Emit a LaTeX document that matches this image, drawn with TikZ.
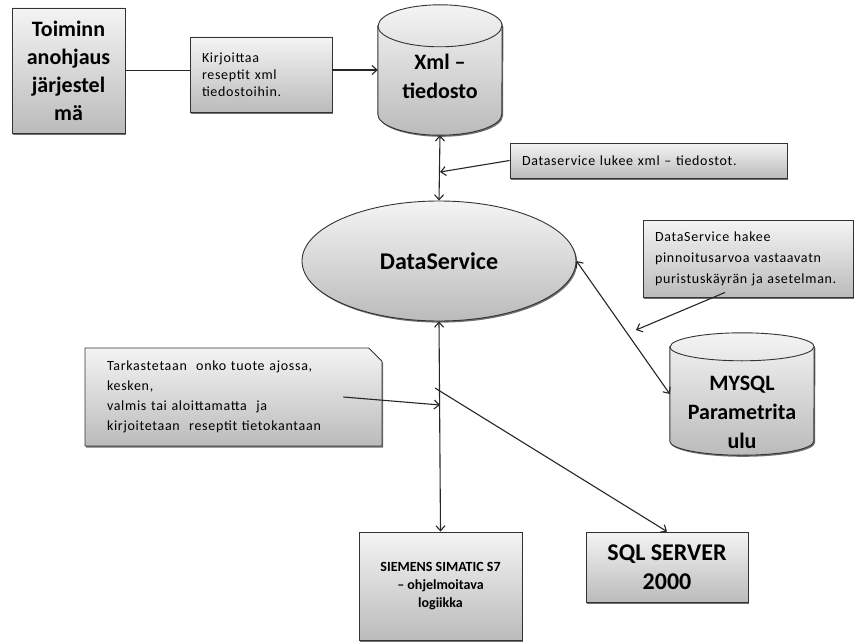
\documentclass[tikz,border=0pt]{standalone}
\usepackage{fontspec}
\setmainfont{Carlito}
\newfontfamily\notefont[LetterSpace=5,Ligatures=TeX]{Carlito}
\usepackage{tikz}
\usetikzlibrary{shapes.geometric,shapes.misc,shadows,arrows.meta,backgrounds}

\definecolor{boxtop}{HTML}{F4F4F4}
\definecolor{boxbot}{HTML}{BBBBBB}

% drum outline round a store node: name, x radius, y radius
\newcommand{\drum}[3]{%
  \draw[shaded, shadowed] ([yshift=-#3]#1.north west) -- ([yshift=#3]#1.south west)
      arc[start angle=180, end angle=360, x radius=#2, y radius=#3]
      -- ([yshift=-#3]#1.north east)
      arc[start angle=0, end angle=180, x radius=#2, y radius=#3] -- cycle;
  \draw[black!80, line width=0.9pt] ([yshift=-#3]#1.north west)
      arc[start angle=180, end angle=360, x radius=#2, y radius=#3];}

\begin{document}
\begin{tikzpicture}[x=1pt,y=-1pt,
                    >={Straight Barb[length=5pt,width=9pt]},
                    shaded/.style={draw=black!80, line width=0.9pt, top color=boxtop, bottom color=boxbot},
                    shadowed/.style={drop shadow={shadow xshift=1.2pt, shadow yshift=-1.6pt, fill=black!70, opacity=0.8}},
                    bigbox/.style={rectangle, shaded, shadowed, align=center, inner sep=0pt,
                                   font=\bfseries\fontsize{22}{28}\selectfont},
                    note/.style={rectangle, shaded, shadowed, align=left, inner xsep=12pt, inner ysep=0pt,
                                 font=\notefont\fontsize{14}{17}\selectfont},
                    store/.style={rectangle, inner sep=0pt, font=\bfseries\fontsize{22}{29}\selectfont},
                    conn/.style={line width=1.1pt, black!85}]

        \useasboundingbox (0,0) rectangle (862,642);

        % sources
        \node[bigbox, minimum width=113pt, minimum height=125pt] (ohj) at (68.5,70.5)
            {Toiminn\\anohjaus\\järjestel\\mä};
        \node[note, text width=118pt, minimum height=75pt] (kirj) at (261,74.5)
            {Kirjoittaa\\reseptit xml\\tiedostoihin.};
        \node[store, minimum width=124pt, minimum height=130pt] (xml) at (440,70)
            {\raisebox{-13.5pt}[0pt][0pt]{\begin{tabular}{@{}c@{}}Xml --\\tiedosto\end{tabular}}};
        \node[note, text width=253pt, minimum height=35pt] (dsl) at (648.5,160.5)
            {Dataservice lukee xml -- tiedostot.};

        % service
        \node[ellipse, shaded, shadowed, minimum width=274pt, minimum height=120pt,
              font=\bfseries\fontsize{24}{28}\selectfont] (ds) at (439,261) {DataService};
        \node[note, text width=186pt, minimum height=77pt, font=\notefont\fontsize{14}{21}\selectfont] (dsh) at (748,258.5)
            {DataService hakee\\pinnoitusarvoa vastaavatn\\puristuskäyrän ja asetelman.};
        \node[store, minimum width=144pt, minimum height=122pt] (mysql) at (742,394)
            {\raisebox{-24.5pt}[0pt][0pt]{\begin{tabular}{@{}c@{}}MYSQL\\Parametrita\\ulu\end{tabular}}};
        \node[chamfered rectangle, chamfered rectangle corners=north east, chamfered rectangle xsep=10pt,
              shaded, shadowed, align=left, inner xsep=12pt, inner ysep=0pt, text width=253pt,
              minimum height=98pt, font=\notefont\fontsize{14}{20}\selectfont] (tark) at (233.5,397)
            {Tarkastetaan~ onko tuote ajossa,\\kesken,\\valmis tai aloittamatta~ ja\\kirjoitetaan~ reseptit tietokantaan};

        % targets
        \node[bigbox, minimum width=163pt, minimum height=108pt, font=\bfseries\fontsize{14}{18}\selectfont] (sim) at (440.5,586)
            {SIEMENS SIMATIC S7\\-- ohjelmoitava\\logiikka};
        \node[bigbox, minimum width=162pt, minimum height=70pt, font=\bfseries\fontsize{24}{29}\selectfont] (sql) at (667,567)
            {SQL SERVER\\2000};

        \begin{scope}[on background layer]
            \drum{xml}{62pt}{21pt}
            \drum{mysql}{72pt}{14pt}
        \end{scope}

        \coordinate (p1) at (440,172);
        \coordinate (p2) at (636,330);
        \coordinate (p3) at (440,405);
        \coordinate (p4) at (435,388);

        \draw[conn] (ohj.east) -- (ohj.east -| kirj.west);
        \draw[conn,->] (xml.west -| kirj.east) -- (xml.west);
        \draw[conn,<->] (xml.south) -- (ds.north);
        \draw[conn,->] (dsl.west) -- (p1);
        \draw[conn,<->] (ds.east) -- (mysql.west);
        \draw[conn,->] ([xshift=-23pt,yshift=5pt]dsh.south) -- (p2);
        \draw[conn,<->] (ds.south) -- (sim.north);
        \draw[conn,->] ([xshift=-39pt]tark.east) -- (p3);
        \draw[conn,->] (p4) -- (sql.north);
    \end{tikzpicture}
\end{document}
